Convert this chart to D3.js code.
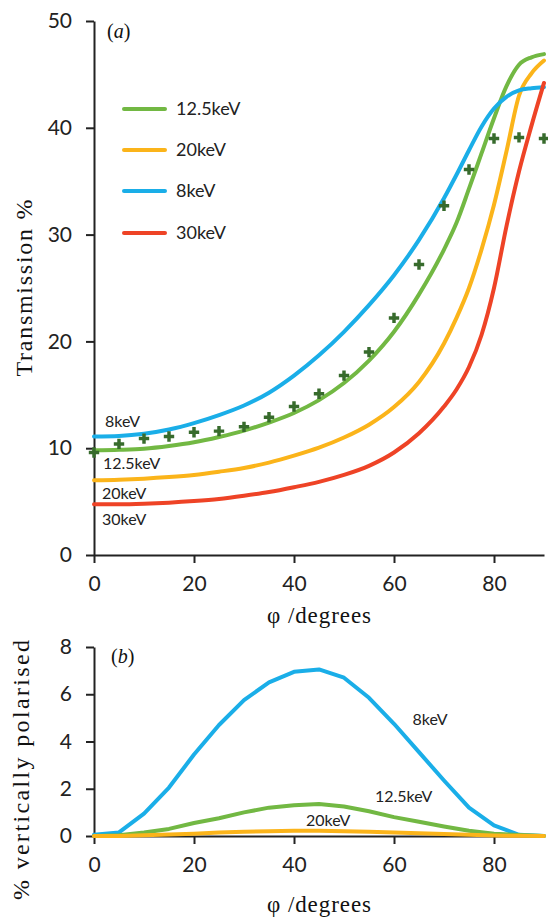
<!DOCTYPE html>
<html><head><meta charset="utf-8">
<script src="https://cdn.jsdelivr.net/npm/d3@7"></script>
<style>body{margin:0;background:#fff}svg{display:block}</style>
</head><body><svg id="c" width="548" height="917"></svg>
<script>
// ---------- data ----------
const phiA = [0,5,10,15,20,25,30,35,40,45,50,55,60,65,70,72.5,75,77.5,80,82.5,85,87.5,90];
const keV8A   = [11.1,11.15,11.35,11.75,12.35,13.1,14.0,15.2,16.8,18.7,20.9,23.4,26.2,29.5,33.4,35.6,37.9,40.1,41.8,42.9,43.5,43.7,43.8];
const keV125A = [9.8,9.85,9.95,10.2,10.55,11.05,11.65,12.4,13.3,14.5,16.1,18.2,20.9,24.4,28.6,31.1,34.3,37.6,40.9,43.9,45.9,46.6,46.9];
const keV20A  = [7.0,7.05,7.15,7.3,7.5,7.8,8.15,8.65,9.3,10.05,11.0,12.2,13.85,16.2,19.8,22.2,25.0,28.6,32.8,37.8,43.0,45.1,46.3];
const keV30A  = [4.75,4.75,4.8,4.9,5.05,5.25,5.55,5.9,6.35,6.85,7.5,8.35,9.6,11.4,13.9,15.5,17.6,20.6,25.0,30.8,35.9,40.2,44.2];
const phiM = [0,5,10,15,20,25,30,35,40,45,50,55,60,65,70,75,80,85,90];
const measured125 = [9.6,10.4,10.9,11.1,11.5,11.6,12.0,12.9,13.9,15.1,16.8,19.0,22.2,27.2,32.7,36.1,39.0,39.1,39.0];

const phiB = [0,5,10,15,20,25,30,35,40,45,50,55,60,65,70,75,80,85,90];
const keV8B   = [0.05,0.15,0.95,2.05,3.45,4.7,5.75,6.5,6.95,7.05,6.7,5.85,4.75,3.55,2.35,1.2,0.45,0.05,0.0];
const keV125B = [0,0.03,0.15,0.3,0.55,0.75,1.0,1.2,1.3,1.35,1.25,1.05,0.8,0.6,0.4,0.22,0.1,0.04,0];
const keV20B  = [0,0,0.03,0.06,0.1,0.15,0.18,0.2,0.22,0.22,0.2,0.18,0.15,0.12,0.08,0.05,0.02,0.01,0];

const xTicks = [0,20,40,60,80];
const yTicksA = [0,10,20,30,40,50];
const yTicksB = [0,2,4,6,8];
const legendNames = ["12.5keV","20keV","8keV","30keV"];

const COL = {g:"#72b843", o:"#fbb41a", b:"#1aaee8", r:"#ee4326", m:"#376b2c"};
const TICKFONT = "Lato, 'Open Sans', sans-serif";
const SERIF = "'Liberation Serif','DejaVu Serif',serif";

const svg = d3.select("#c");

// ---------- scales ----------
const xA = d3.scaleLinear().domain([0,90]).range([94,544]);
const yA = d3.scaleLinear().domain([0,50]).range([555,21]);
const xB = d3.scaleLinear().domain([0,90]).range([94,544]);
const yB = d3.scaleLinear().domain([0,8]).range([836,647]);

function styleAxis(g){
  g.select(".domain").attr("stroke","#222").attr("stroke-width",2);
  g.selectAll(".tick line").attr("stroke","#222").attr("stroke-width",2);
  g.selectAll(".tick text").attr("fill","#222").style("font-family",TICKFONT).style("font-size","21px");
}

// ---------- panel (a) ----------
const gA = svg.append("g");
gA.append("g").attr("transform","translate(0,555)")
  .call(d3.axisBottom(xA).tickValues(xTicks).tickSize(8).tickSizeOuter(0).tickPadding(13).tickFormat(d3.format("d")))
  .call(styleAxis);
gA.append("g").attr("transform","translate(94,0)")
  .call(d3.axisLeft(yA).tickValues(yTicksA).tickSize(8).tickSizeOuter(0).tickPadding(14).tickFormat(d3.format("d")))
  .call(styleAxis);

const lineA = ys => d3.line().x((d,i)=>xA(phiA[i])).y(d=>yA(d)).curve(d3.curveMonotoneX)(ys);
[[keV125A,COL.g],[keV20A,COL.o],[keV8A,COL.b],[keV30A,COL.r]].forEach(([ys,c])=>{
  gA.append("path").attr("d",lineA(ys)).attr("fill","none").attr("stroke",c)
    .attr("stroke-width",4).attr("stroke-linejoin","round").attr("stroke-linecap","round");
});
gA.selectAll(".mk").data(measured125).enter().append("path")
  .attr("transform",(d,i)=>`translate(${xA(phiM[i])},${yA(d)})`)
  .attr("d",d3.symbol(d3.symbolCross,60)()).attr("fill",COL.m);

// legend
const legCols = [COL.g,COL.o,COL.b,COL.r];
const legY = [109,150,191,233];
legendNames.forEach((n,i)=>{
  gA.append("line").attr("x1",124).attr("x2",165).attr("y1",legY[i]).attr("y2",legY[i])
    .attr("stroke",legCols[i]).attr("stroke-width",4).attr("stroke-linecap","round");
  gA.append("text").attr("x",176).attr("y",legY[i]).attr("dy","0.36em").text(n)
    .style("font-family",TICKFONT).style("font-size","18px").attr("fill","#222");
});

// curve annotations
const annA = [["8keV",2.2,12.5],["12.5keV",1.8,8.6],["20keV",1.6,5.8],["30keV",1.6,3.35]];
annA.forEach(([t,x,y])=>{
  gA.append("text").attr("x",xA(x)).attr("y",yA(y)).attr("dy","0.36em").text(t)
    .style("font-family",TICKFONT).style("font-size","16px").attr("fill","#222");
});

gA.append("text").attr("x",107).attr("y",38).style("font-family",SERIF).style("font-size","20px").attr("fill","#111")
  .html('(<tspan font-style="italic">a</tspan>)');

gA.append("text").attr("transform","translate(32,288) rotate(-90)").attr("text-anchor","middle")
  .attr("textLength",177).attr("lengthAdjust","spacing")
  .style("font-family",SERIF).style("font-size","24px").attr("fill","#111").text("Transmission %");
gA.append("text").attr("x",319).attr("y",623).attr("text-anchor","middle")
  .attr("textLength",104).attr("lengthAdjust","spacing")
  .style("font-family",SERIF).style("font-size","23px").attr("fill","#111").text("φ /degrees");

// ---------- panel (b) ----------
const gB = svg.append("g");
gB.append("g").attr("transform","translate(0,836)")
  .call(d3.axisBottom(xB).tickValues(xTicks).tickSize(8).tickSizeOuter(0).tickPadding(13).tickFormat(d3.format("d")))
  .call(styleAxis);
gB.append("g").attr("transform","translate(94,0)")
  .call(d3.axisLeft(yB).tickValues(yTicksB).tickSize(8).tickSizeOuter(0).tickPadding(14).tickFormat(d3.format("d")))
  .call(styleAxis);

const lineB = ys => d3.line().x((d,i)=>xB(phiB[i])).y(d=>yB(d))(ys);
[[keV8B,COL.b],[keV125B,COL.g],[keV20B,COL.o]].forEach(([ys,c])=>{
  gB.append("path").attr("d",lineB(ys)).attr("fill","none").attr("stroke",c)
    .attr("stroke-width",4).attr("stroke-linejoin","round").attr("stroke-linecap","round");
});
const annB = [["8keV",67.2,4.95,"middle"],["12.5keV",56.2,1.7,"start"],["20keV",42.4,0.68,"start"]];
annB.forEach(([t,x,y,a])=>{
  gB.append("text").attr("x",xB(x)).attr("y",yB(y)).attr("dy","0.36em").attr("text-anchor",a).text(t)
    .style("font-family",TICKFONT).style("font-size","16px").attr("fill","#222");
});
gB.append("text").attr("x",111).attr("y",663).style("font-family",SERIF).style("font-size","20px").attr("fill","#111")
  .html('(<tspan font-style="italic">b</tspan>)');
gB.append("text").attr("transform","translate(29,770) rotate(-90)").attr("text-anchor","middle")
  .attr("textLength",260).attr("lengthAdjust","spacing")
  .style("font-family",SERIF).style("font-size","24px").attr("fill","#111").text("% vertically polarised");
gB.append("text").attr("x",319).attr("y",912).attr("text-anchor","middle")
  .attr("textLength",104).attr("lengthAdjust","spacing")
  .style("font-family",SERIF).style("font-size","23px").attr("fill","#111").text("φ /degrees");
</script></body></html>
